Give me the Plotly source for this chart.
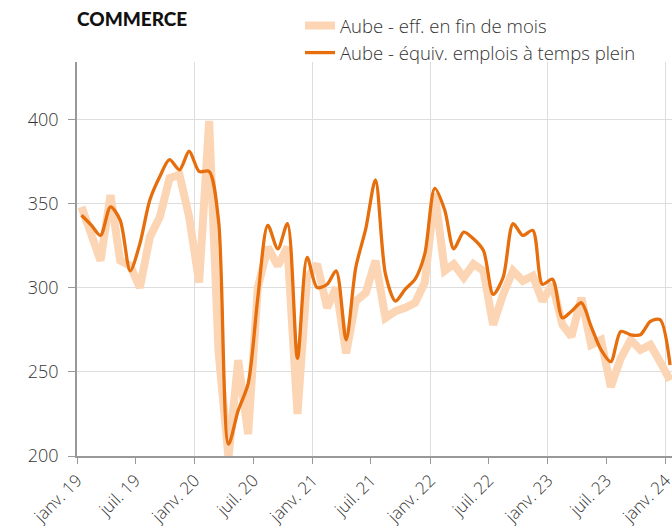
import plotly.graph_objects as go

# Monthly dates (mid-month), Jan 2019 -> Jan 2024
months = [f"{2019 + i // 12}-{i % 12 + 1:02d}-15" for i in range(61)]

eff_fin_mois = [348, 332, 316, 355, 316, 313, 300, 330, 342, 365, 367, 342,
                303, 399, 262, 199, 257, 213, 300, 324, 313, 324, 225, 306,
                314, 288, 300, 261, 292, 297, 316, 282, 286, 288, 291, 303,
                356, 310, 314, 306, 314, 310, 278, 296, 310, 304, 307, 292,
                302, 278, 271, 294, 266, 269, 241, 258, 269, 263, 266, 256,
                245]

equiv_tp = [343, 337, 331, 348, 340, 310, 326, 352, 366, 376, 370, 381,
            369, 369, 340, 207, 227, 243, 294, 337, 323, 338, 258, 318,
            300, 302, 310, 269, 312, 335, 364, 308, 292, 299, 305, 320,
            359, 346, 323, 333, 329, 322, 296, 306, 338, 331, 334, 302,
            305, 282, 286, 291, 277, 263, 256, 274, 272, 272, 280, 281,
            254]

tick_dates = ["2019-01-01", "2019-07-01", "2020-01-01", "2020-07-01", "2021-01-01",
              "2021-07-01", "2022-01-01", "2022-07-01", "2023-01-01", "2023-07-01",
              "2024-01-01"]
tick_labels = ["janv. 19", "juil. 19", "janv. 20", "juil. 20", "janv. 21", "juil. 21",
               "janv. 22", "juil. 22", "janv. 23", "juil. 23", "janv. 24"]
grid_dates = tick_dates[0::2]

series_names = ["Aube - eff. en fin de mois", "Aube - équiv. emplois à temps plein"]

PALE = "#FCD5B5"
DARK = "#E66E0C"
TXT = "#333333"
X_RANGE = ["2019-01-01", "2024-01-21"]

fig = go.Figure()
fig.add_trace(go.Scatter(x=months, y=eff_fin_mois, mode="lines", name=series_names[0],
                         line=dict(color=PALE, width=8), hoverinfo="skip"))
fig.add_trace(go.Scatter(x=months, y=equiv_tp, mode="lines", name=series_names[1],
                         line=dict(color=DARK, width=3.3, shape="spline", smoothing=0.8)))
# invisible helper trace for the yearly grid axis
fig.add_trace(go.Scatter(x=months, y=equiv_tp, xaxis="x2", mode="lines", showlegend=False,
                         line=dict(color="rgba(0,0,0,0)", width=0), hoverinfo="skip"))

font_family = "'Open Sans', Lato, sans-serif"

fig.update_layout(
    width=672, height=526,
    margin=dict(l=77, r=0, t=62, b=70, autoexpand=False),
    paper_bgcolor="white", plot_bgcolor="white",
    font=dict(family=font_family, size=16, color=TXT),
    title=dict(text="COMMERCE", x=77 / 672, xanchor="left", xref="container",
               y=1 - 19 / 526, yanchor="middle",
               font=dict(family="Lato, sans-serif", size=19, weight=900, color="#111111")),
    showlegend=True,
    legend=dict(x=300 / 672, xanchor="left", xref="container",
                y=1 - 7 / 526, yanchor="top", yref="container", orientation="v",
                font=dict(size=18.5, color=TXT, weight=300), bgcolor="rgba(0,0,0,0)",
                tracegroupgap=0, itemwidth=30),
    xaxis=dict(type="date", range=X_RANGE, automargin=False,
               tickvals=tick_dates, ticktext=tick_labels, tickangle=-45,
               ticklabeloverflow="allow",
               showgrid=False, showline=True, linecolor="#999999", linewidth=1.5,
               ticks="outside", ticklen=6, tickcolor="#999999",
               tickfont=dict(size=17, color=TXT, weight=300), zeroline=False),
    xaxis2=dict(type="date", overlaying="x", range=X_RANGE, automargin=False,
                tickvals=grid_dates,
                showgrid=True, gridcolor="#DDDDDD", gridwidth=1.2,
                showticklabels=False, ticks="", showline=False, zeroline=False),
    yaxis=dict(range=[200, 434], tickvals=[200, 250, 300, 350, 400], automargin=False,
               showgrid=True, gridcolor="#DDDDDD", gridwidth=1.2,
               showline=True, linecolor="#999999", linewidth=1.5,
               ticks="outside", ticklen=7, tickcolor="#999999", ticklabelstandoff=6,
               tickfont=dict(size=18, color=TXT, weight=300), zeroline=False),
)

fig.write_html("out.html", config={"displayModeBar": False},
               post_script="document.body.style.margin='0';document.body.style.padding='0';")
